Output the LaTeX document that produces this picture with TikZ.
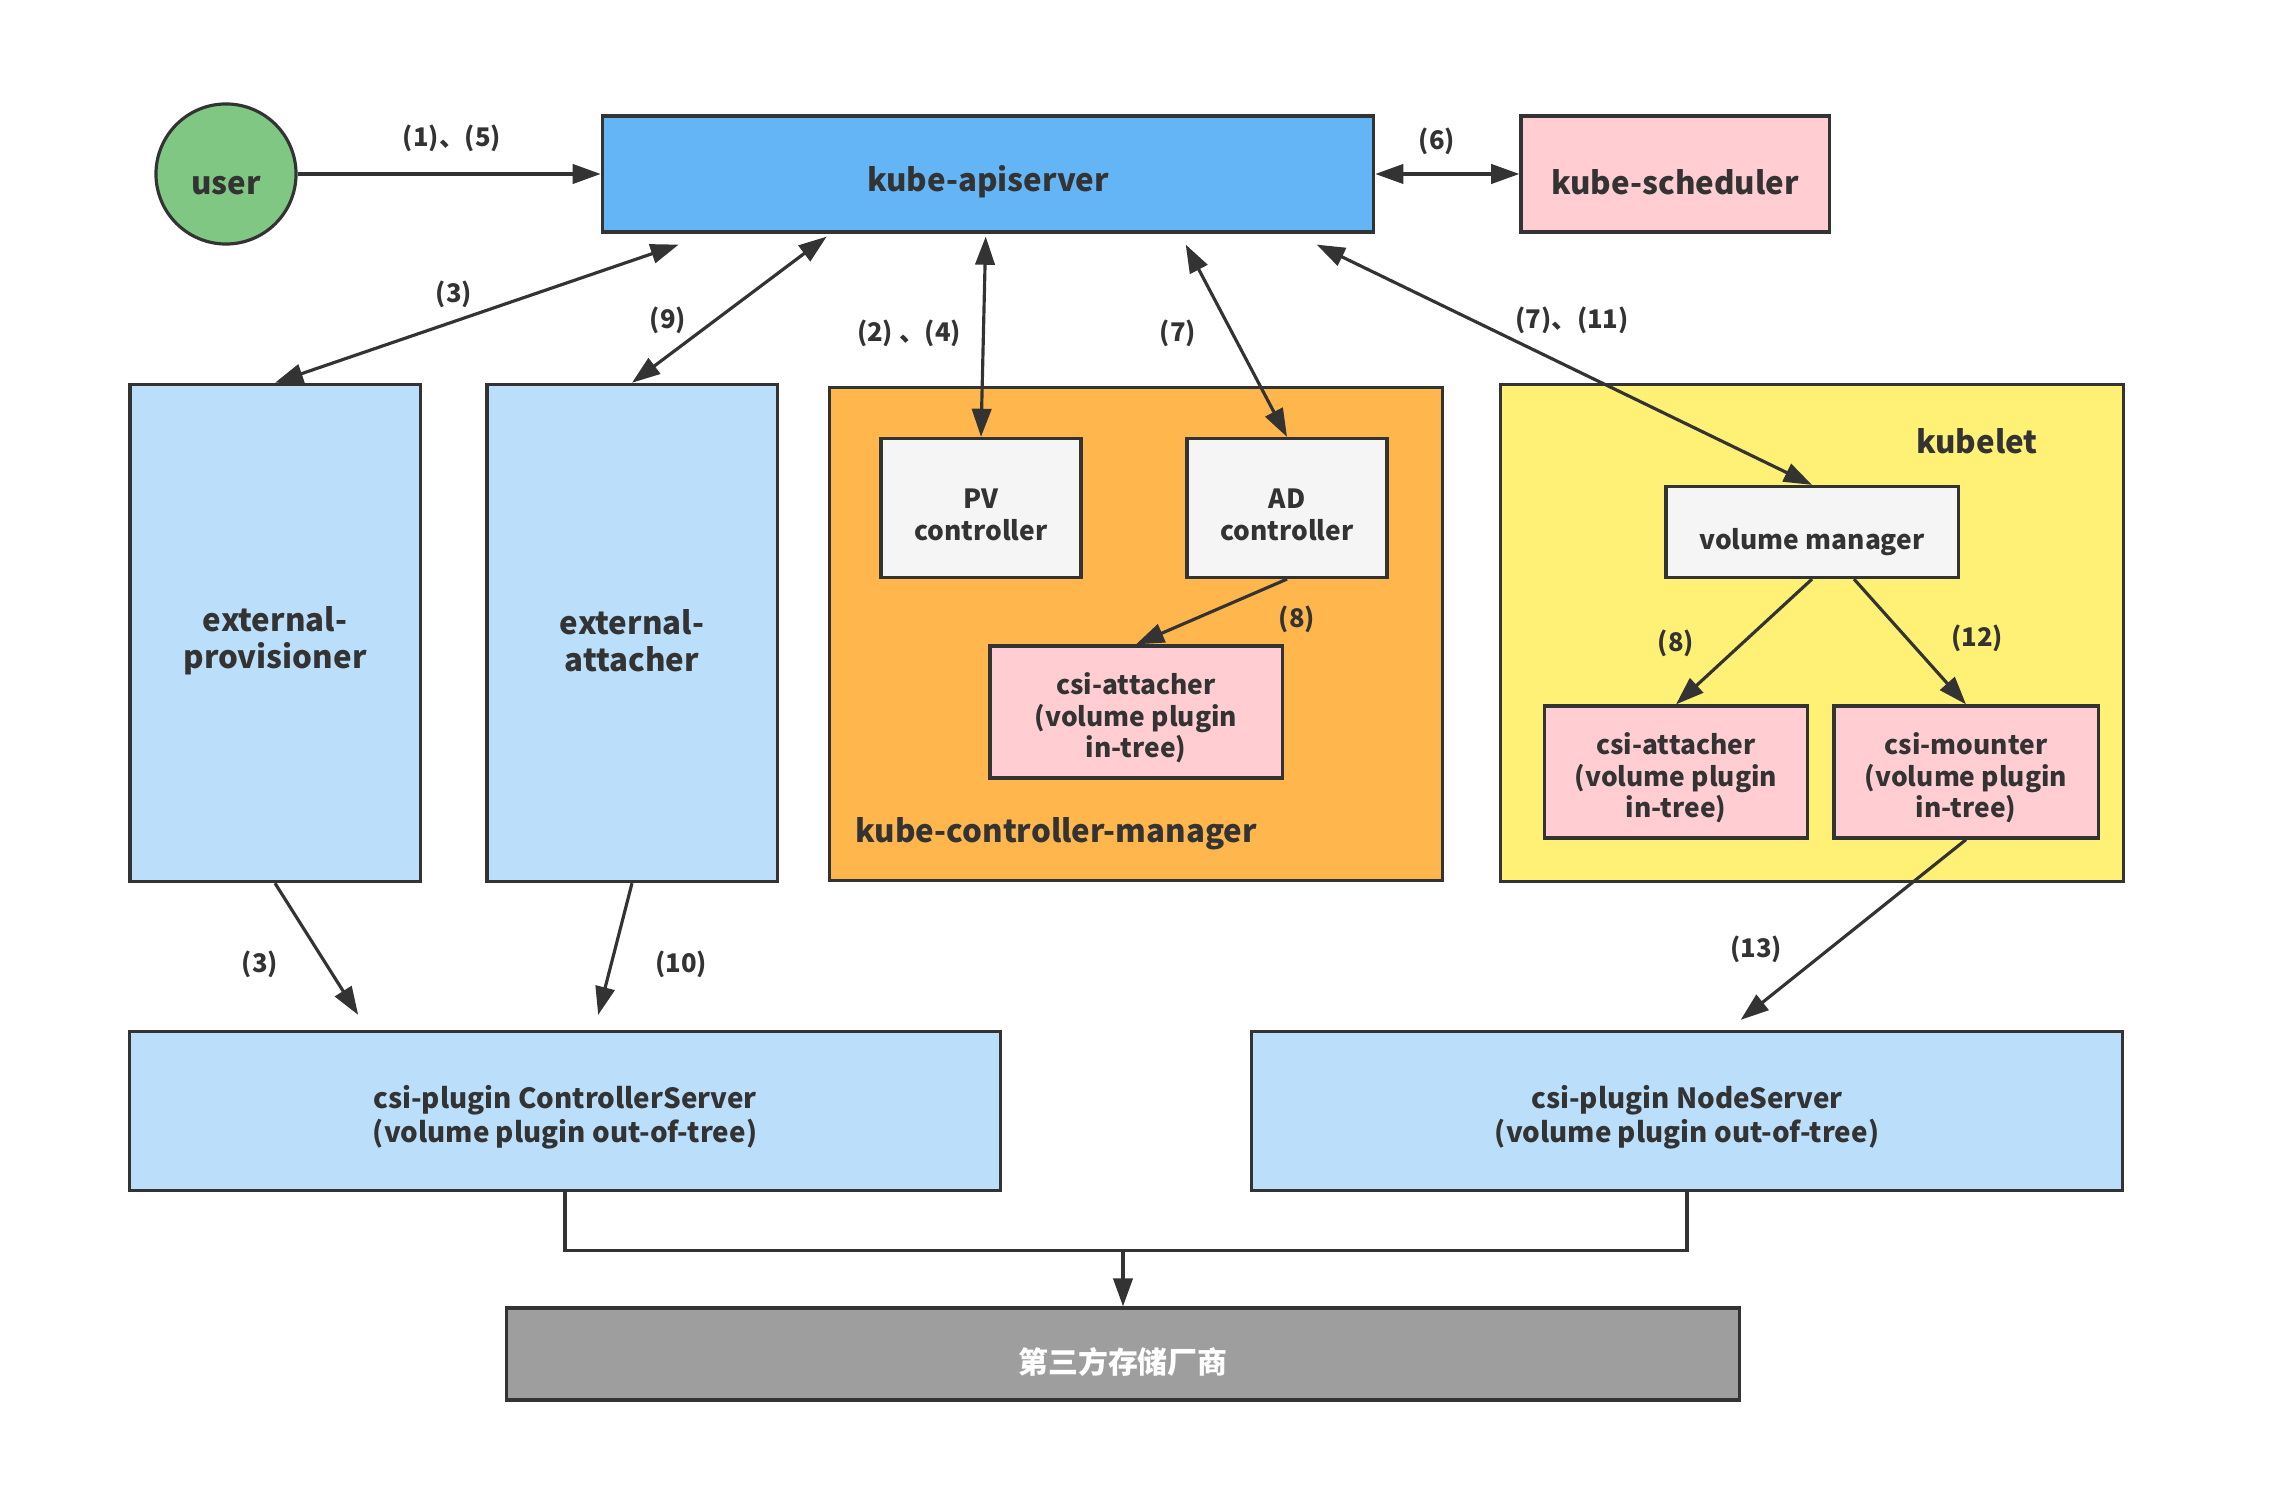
\documentclass[tikz,border=0pt]{standalone}
\usepackage{fontspec}
\setmainfont{Noto Sans CJK SC}
\usetikzlibrary{arrows.meta,calc}
\definecolor{ink}{HTML}{333333}
\definecolor{apiblue}{HTML}{64B5F6}
\definecolor{paleblue}{HTML}{BBDEFB}
\definecolor{pinkbox}{HTML}{FFCDD2}
\definecolor{usergreen}{HTML}{81C784}
\definecolor{kcmorange}{HTML}{FFB74D}
\definecolor{kubeyellow}{HTML}{FFF176}
\definecolor{greybox}{HTML}{F5F5F5}
\definecolor{storegrey}{HTML}{9E9E9E}
\newcommand{\boxstrut}{\rule{0pt}{1.28em}}
\begin{document}
\begin{tikzpicture}[x=0.01cm,y=-0.01cm,
    box/.style={draw=ink,line width=0.9pt,text=ink,align=center,inner sep=0pt,
      font=\bfseries\fontsize{7.5}{9}\selectfont},
    bigbox/.style={box,font=\bfseries\fontsize{8.9}{10.4}\selectfont},
    oneline/.style={text height=1.2em},
    link/.style={draw=ink,line width=0.9pt,-{Triangle[length=8pt,width=5.5pt]}},
    both/.style={link,{Triangle[length=8pt,width=5.5pt]}-{Triangle[length=8pt,width=5.5pt]}},
    tag/.style={text=ink,font=\bfseries\fontsize{7.3}{9}\selectfont}
    ]
\useasboundingbox (0,0) rectangle (2272,1504);
% top row
\node[bigbox,oneline,circle,fill=usergreen,minimum size=1.40cm] (user) at (226,174) {user};
\node[bigbox,oneline,fill=apiblue,minimum width=7.71cm,minimum height=1.16cm] (api) at (988,174) {kube-apiserver};
\node[bigbox,oneline,fill=pinkbox,minimum width=3.08cm,minimum height=1.16cm] (sched) at (1675,174) {kube-scheduler};
% external sidecars
\node[bigbox,fill=paleblue,minimum width=2.90cm,minimum height=4.97cm] (prov) at (275,633) {\boxstrut external-\\provisioner};
\node[bigbox,fill=paleblue,minimum width=2.90cm,minimum height=4.97cm] (att) at (632,633) {\boxstrut external-\\attacher};
% kube-controller-manager
\node[box,fill=kcmorange,minimum width=6.12cm,minimum height=4.92cm] (kcm) at (1136,634) {};
\node[tag,anchor=west,font=\bfseries\fontsize{8.9}{11}\selectfont] (kcmlabel) at (843,834) {kube-controller-manager};
\node[box,fill=greybox,minimum width=2.00cm,minimum height=1.39cm] (pv) at (981,508) {\boxstrut PV\\controller};
\node[box,fill=greybox,minimum width=2.00cm,minimum height=1.39cm] (ad) at (1287,508) {\boxstrut AD\\controller};
\node[box,fill=pinkbox,minimum width=2.92cm,minimum height=1.32cm] (csiatt1) at (1136,712) {\boxstrut csi-attacher\\(volume plugin\\in-tree)};
% kubelet
\node[box,fill=kubeyellow,minimum width=6.22cm,minimum height=4.97cm] (kubelet) at (1812,633) {};
\node[tag,font=\bfseries\fontsize{8.9}{11}\selectfont] (kubeletlabel) at (1977,441) {kubelet};
\node[box,oneline,fill=greybox,minimum width=2.92cm,minimum height=0.91cm] (vm) at (1812,532) {volume manager};
\node[box,fill=pinkbox,minimum width=2.63cm,minimum height=1.32cm] (csiatt2) at (1676,772) {\boxstrut csi-attacher\\(volume plugin\\in-tree)};
\node[box,fill=pinkbox,minimum width=2.64cm,minimum height=1.32cm] (csimnt) at (1966,772) {\boxstrut csi-mounter\\(volume plugin\\in-tree)};
% csi plugin
\node[box,fill=paleblue,minimum width=8.70cm,minimum height=1.59cm,font=\bfseries\fontsize{7.9}{9.6}\selectfont] (cs) at (565,1111) {\boxstrut csi-plugin ControllerServer\\(volume plugin out-of-tree)};
\node[box,fill=paleblue,minimum width=8.71cm,minimum height=1.59cm,font=\bfseries\fontsize{7.9}{9.6}\selectfont] (ns) at (1687,1111) {\boxstrut csi-plugin NodeServer\\(volume plugin out-of-tree)};
\node[box,oneline,fill=storegrey,text=white,minimum width=12.32cm,minimum height=0.92cm,font=\bfseries\fontsize{8.5}{10}\selectfont] (store) at (1123,1354) {第三方存储厂商};
% connectors
\draw[link] (user) -- (api);
\draw[both] (api) -- (sched);
\draw[both] (prov.north) -- ($(api.south west)+(78,11)$);
\draw[both] (att.north) -- ($(api.south west)+(226,3)$);
\draw[both] (pv.north) -- ($(api.south west)+(385,3)$);
\draw[both] (ad.north) -- ($(api.south west)+(585,11)$);
\draw[both] (vm.north) -- ($(api.south west)+(716,11)$);
\draw[link] (ad.south) -- (csiatt1.north);
\draw[link] (vm.south) -- (csiatt2.north);
\draw[link] ($(vm.south)+(42,0)$) -- (csimnt.north);
\draw[link] (prov.south) -- ($(cs.north west)+(230,-15)$);
\draw[link] (att.south) -- ($(cs.north west)+(470,-15)$);
\draw[link] (csimnt.south) -- ($(ns.north west)+(491,-10)$);
\coordinate (bus) at ($(cs.south)+(0,58)$);
\draw[ink,line width=0.9pt] (cs.south) -- (bus) -| (ns.south);
\draw[link] (bus -| store.north) -- (store.north);
% step labels
\node[tag] (t15) at (452,138) {(1)、(5)};
\node[tag] (t6) at (1437,141) {(6)};
\node[tag] (t3a) at (454,294) {(3)};
\node[tag] (t9) at (668,320) {(9)};
\node[tag] (t24) at (909,333) {(2) 、(4)};
\node[tag] (t7) at (1178,333) {(7)};
\node[tag] (t711) at (1572,320) {(7)、(11)};
\node[tag] (t8a) at (1297,619) {(8)};
\node[tag] (t8b) at (1676,643) {(8)};
\node[tag] (t12) at (1977,638) {(12)};
\node[tag] (t3b) at (260,964) {(3)};
\node[tag] (t10) at (681,964) {(10)};
\node[tag] (t13) at (1756,949) {(13)};
\end{tikzpicture}
\end{document}
